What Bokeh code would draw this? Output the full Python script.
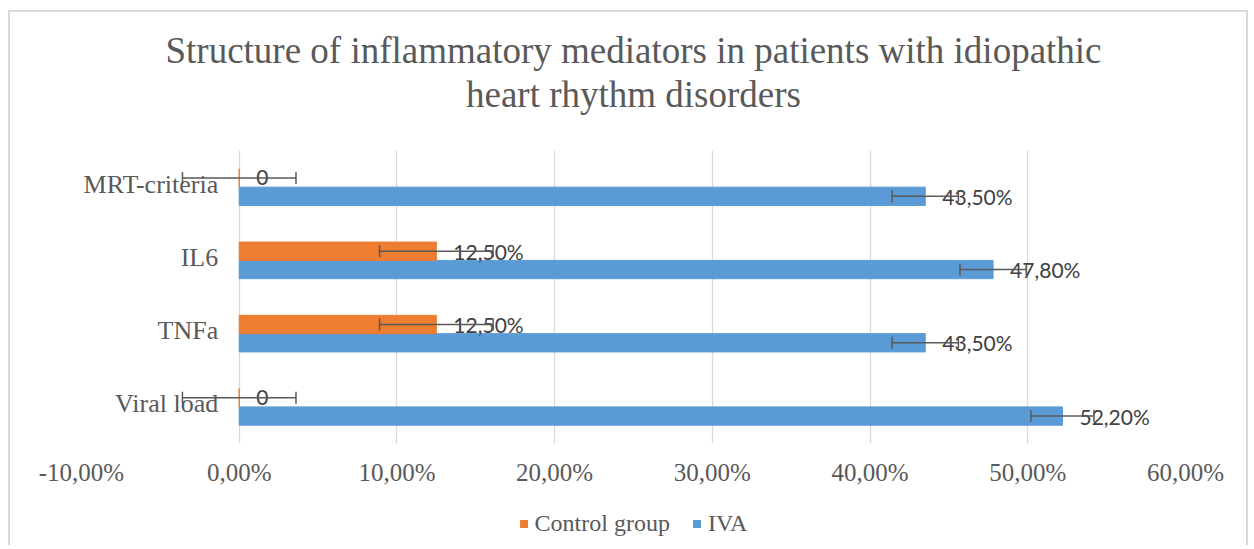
import math
from bokeh.plotting import figure
from bokeh.layouts import column
from bokeh.models import (ColumnDataSource, FactorRange, FixedTicker,
                          Legend, LegendItem, Title)
from bokeh.transform import dodge
from bokeh.core.properties import value
from bokeh.embed import file_html
from bokeh.resources import INLINE

categories = ["Viral load", "TNFa", "IL6", "MRT-criteria"]
iva = [52.2, 43.5, 47.8, 43.5]
control = [0.0, 12.5, 12.5, 0.0]
iva_err = [2.0, 2.1, 2.1, 2.1]
control_err = [3.6, 3.6, 3.6, 3.6]
iva_labels = ["52,20%", "43,50%", "47,80%", "43,50%"]
control_labels = ["0", "12,50%", "12,50%", "0"]
tick_values = [-10, 0, 10, 20, 30, 40, 50, 60]
tick_labels = ["-10,00%", "0,00%", "10,00%", "20,00%", "30,00%", "40,00%", "50,00%", "60,00%"]
series_names = ["Control group", "IVA"]

SERIF = "Liberation Serif"
GRAY = "#595959"
BORDER = "2px solid #d9d9d9"
C_CTL = "#ED7D31"
C_IVA = "#5B9BD5"

src = ColumnDataSource(dict(
    cat=categories,
    iva=iva,
    control=control,
    iva_lo=[v - e for v, e in zip(iva, iva_err)],
    iva_hi=[v + e for v, e in zip(iva, iva_err)],
    ctl_lo=[v - e for v, e in zip(control, control_err)],
    ctl_hi=[v + e for v, e in zip(control, control_err)],
    iva_lab=iva_labels,
    ctl_lab=control_labels,
))

p = figure(frame_width=1100, frame_height=291, output_backend="svg", toolbar_location=None,
           x_range=(-10, 60), y_range=FactorRange(factors=categories, range_padding=0),
           min_border_left=71, min_border_right=65, min_border_top=138, min_border_bottom=60)
p.margin = (10, 0, 0, 8)
p.styles = {"border-top": BORDER, "border-left": BORDER, "border-right": BORDER}
p.outline_line_color = None
p.background_fill_color = "white"

# titles: p.title is outermost; among added titles the first added is nearest the frame
p.title.text = "Structure of inflammatory mediators in patients with idiopathic"
p.title.align = "center"
p.title.text_font = SERIF
p.title.text_font_size = "37px"
p.title.text_font_style = "normal"
p.title.text_color = GRAY
p.title.standoff = 0
p.add_layout(Title(text=" ", text_font_size="1px", standoff=32), "above")
p.add_layout(Title(text="heart rhythm disorders",
                   align="center", text_font=SERIF, text_font_size="37px",
                   text_font_style="normal", text_color=GRAY, standoff=2), "above")

# grid and axes
p.ygrid.grid_line_color = None
p.xgrid.grid_line_color = "#d9d9d9"
p.xgrid.grid_line_width = 1.3
p.xaxis.ticker = FixedTicker(ticks=tick_values)
p.xaxis.major_label_overrides = {t: l for t, l in zip(tick_values, tick_labels)}
p.xaxis.axis_line_color = None
p.xaxis.major_tick_line_color = None
p.xaxis.minor_tick_line_color = None
p.xaxis.major_label_text_font = SERIF
p.xaxis.major_label_text_font_size = "25px"
p.xaxis.major_label_text_color = GRAY
p.xaxis.major_label_standoff = 9
p.yaxis.visible = False

y_iva = dodge("cat", -0.125, range=p.y_range)
y_ctl = dodge("cat", 0.125, range=p.y_range)

# bars
p.hbar(y=y_iva, left=0, right="iva", height=0.25,
       source=src, fill_color=C_IVA, line_color=C_IVA)
p.hbar(y=y_ctl, left=0, right="control", height=0.25,
       source=src, fill_color=C_CTL, line_color=C_CTL)

# category labels
p.text(x=0, y="cat", text="cat", source=src, x_offset=-21, y_offset=-3, text_align="right",
       text_baseline="middle", text_font=value(SERIF), text_font_size="26px", text_color=GRAY)

# data labels
p.text(x="iva", y=y_iva, text="iva_lab", source=src,
       x_offset=17, text_align="left", text_baseline="middle", text_font=value("Lato"),
       text_font_size="21px", text_color="#404040")
p.text(x="control", y=y_ctl, text="ctl_lab", source=src,
       x_offset=17, text_align="left", text_baseline="middle", text_font=value("Lato"),
       text_font_size="21px", text_color="#404040")

# error bars
for yy, lo, hi in [(y_iva, "iva_lo", "iva_hi"), (y_ctl, "ctl_lo", "ctl_hi")]:
    p.segment(x0=lo, x1=hi, y0=yy, y1=yy, source=src, line_color=GRAY, line_width=1.5)
    for end in (lo, hi):
        p.scatter(x=end, y=yy, source=src, marker="dash", angle=math.pi / 2, size=12,
                  line_color=GRAY, line_width=1.5)

# legend strip below the chart (same frame width as the main plot)
p2 = figure(frame_width=1100, frame_height=44, output_backend="svg", toolbar_location=None,
            min_border_left=71, min_border_right=65, min_border_top=0, min_border_bottom=0,
            x_axis_location=None, y_axis_location=None, x_range=(0, 1), y_range=(0, 1))
p2.margin = (0, 0, 0, 8)
p2.styles = {"border-left": BORDER, "border-right": BORDER}
p2.grid.visible = False
p2.outline_line_color = None

# zero-width placeholder bars (one row each) so that the legend draws its swatches
leg_src = ColumnDataSource(dict(name=series_names, y=[0, 0], right=[0, 0],
                                color=[C_CTL, C_IVA]))
d_ctl = p2.hbar(y="y", left=0, right="right", height=0.0, source=leg_src,
                fill_color=C_CTL, line_color=None)
d_iva = p2.hbar(y="y", left=0, right="right", height=0.0, source=leg_src,
                fill_color=C_IVA, line_color=None)

legend = Legend(items=[LegendItem(label=series_names[0], renderers=[d_ctl]),
                       LegendItem(label=series_names[1], renderers=[d_iva])],
                orientation="horizontal", location="center",
                border_line_color=None, background_fill_alpha=0,
                label_text_font=SERIF, label_text_font_size="24px", label_text_color=GRAY,
                glyph_width=10, glyph_height=10, label_standoff=6, spacing=22,
                padding=0, margin=0)
p2.add_layout(legend)

layout = column(p, p2, spacing=0)
open("out.html", "w").write(file_html(layout, INLINE))
